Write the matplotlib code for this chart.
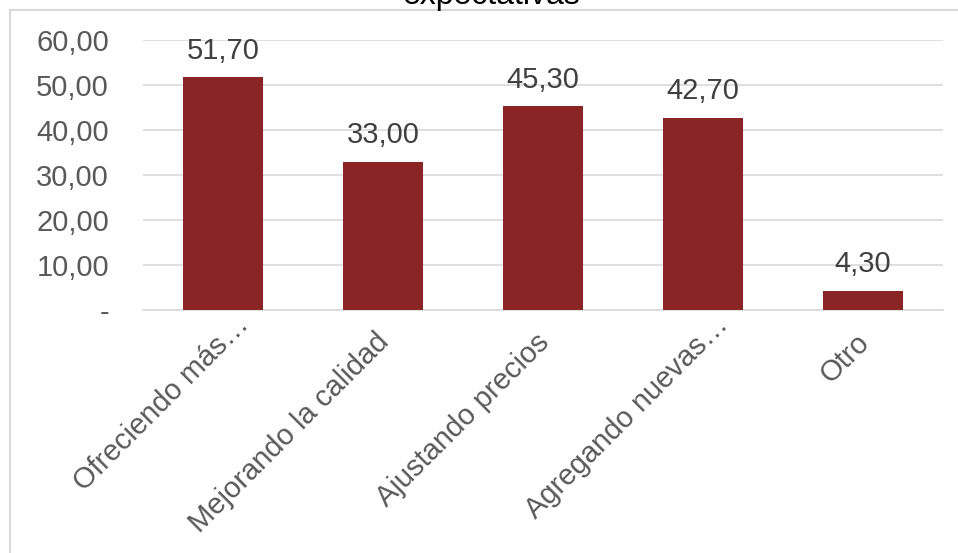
import matplotlib.pyplot as plt
from matplotlib.patches import Rectangle

# data
categories = ['Ofreciendo más…', 'Mejorando la calidad', 'Ajustando precios',
              'Agregando nuevas…', 'Otro']
values = [51.70, 33.00, 45.30, 42.70, 4.30]
yticks = [0, 10, 20, 30, 40, 50, 60]
ytick_labels = ['-', '10,00', '20,00', '30,00', '40,00', '50,00', '60,00']

plt.rcParams['font.family'] = ['Liberation Sans', 'DejaVu Sans']

W, H = 958, 553
fig = plt.figure(figsize=(W / 100, H / 100), dpi=100)

# chart frame (partly cut off like the screenshot)
fig.patches.append(Rectangle((10 / W, -0.1), 1.2, 1 - 10 / H + 0.1,
                             transform=fig.transFigure, fill=False,
                             edgecolor='#d9d9d9', linewidth=1.5))

# title, mostly cut off at the top
fig.text(491 / W, 1 - 4 / H, 'expectativas', ha='center', va='baseline',
         fontsize=23, color='#000000')

ax = fig.add_axes([143 / W, 1 - 310 / H, 800 / W, 270 / H])
x = range(len(categories))
bars = ax.bar(x, values, width=0.5, color='#8b2525', zorder=3)
ax.set_xlim(-0.5, len(categories) - 0.5)
ax.set_ylim(0, 60)

ax.set_yticks(yticks)
ax.set_yticklabels(ytick_labels)
ax.set_xticks(list(x))
ax.set_xticklabels([])

# rotated category labels (truncated ones sit further up/right in the original)
for i, cat in enumerate(categories):
    if cat.endswith('…'):
        off = (21, -10)
    else:
        off = (2, -28)
    ax.annotate(cat, (i, 0), xycoords=('data', 'axes fraction'),
                xytext=off, textcoords='offset pixels', rotation=45,
                ha='right', va='center', rotation_mode='anchor',
                fontsize=21, color='#595959')

ax.tick_params(axis='y', length=0, pad=24.5, labelsize=21, labelcolor='#595959')
ax.tick_params(axis='x', length=0)

ax.grid(axis='y', color='#d9d9d9', linewidth=1.2, zorder=0)
for s in ['top', 'right', 'left']:
    ax.spines[s].set_visible(False)
ax.spines['bottom'].set_color('#d9d9d9')
ax.spines['bottom'].set_linewidth(1.2)

for b, v in zip(bars, values):
    ax.annotate(f'{v:.2f}'.replace('.', ','), (b.get_x() + b.get_width() / 2, v),
                xytext=(0, 9), textcoords='offset points', ha='center',
                va='bottom', fontsize=21, color='#404040')

fig.savefig('out.png', dpi=100)
